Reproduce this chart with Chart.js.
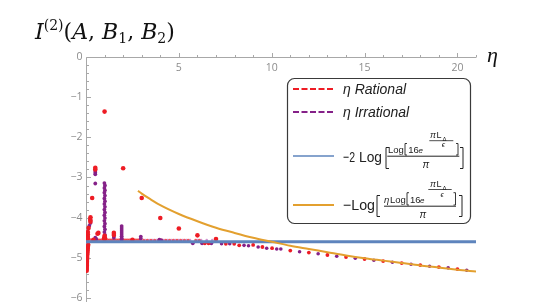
<!DOCTYPE html>
<html><head><meta charset="utf-8">
<script src="https://cdn.jsdelivr.net/npm/chart.js@4.4.0/dist/chart.umd.min.js"></script>
<style>
html,body{margin:0;padding:0;background:#fff;width:545px;height:307px;overflow:hidden}
#wrap{position:relative;width:545px;height:307px}
#c{position:absolute;left:0;top:0}
#title{position:absolute;left:35px;top:10px;font-family:"DejaVu Serif",serif;font-size:22px;color:#111;white-space:nowrap;line-height:30px}
#title sup{font-size:14px;vertical-align:9px;font-style:normal}
#title sub{font-size:14px;vertical-align:-4px}
#eta{position:absolute;left:487px;top:42px;font-family:"Liberation Serif",serif;font-style:italic;font-size:22px;color:#111}
svg{position:absolute;left:0;top:0}
</style></head>
<body><div id="wrap">
<canvas id="c" width="545" height="307"></canvas>
<div id="title"><i>I</i><sup>(2)</sup>(<i>A</i>, <i>B</i><sub>1</sub>, <i>B</i><sub>2</sub>)</div>
<div id="eta">η</div>
<svg width="545" height="307" font-family="Liberation Sans, Arial, sans-serif" fill="#222">
  <rect x="287.5" y="78.5" width="183" height="145" rx="7" ry="7" fill="#fff" stroke="#3a3a3a" stroke-width="1.2"/>
  <line x1="293" y1="89" x2="334" y2="89" stroke="#ee1c24" stroke-width="2" stroke-dasharray="6 2.5"/>
  <text x="343" y="94" font-size="14" font-style="italic">η Rational</text>
  <line x1="293" y1="112" x2="334" y2="112" stroke="#852188" stroke-width="2" stroke-dasharray="6 2.5"/>
  <text x="343" y="117" font-size="14" font-style="italic">η Irrational</text>
  <line x1="293" y1="156" x2="334" y2="156" stroke="#5e84bd" stroke-width="1.6"/>
  <text x="343" y="161.5" font-size="15" textLength="12" lengthAdjust="spacingAndGlyphs">−2</text>
  <text x="359" y="161.5" font-size="15" textLength="23" lengthAdjust="spacingAndGlyphs">Log</text>
  <path d="M389 147.5 H386 V168.5 H389" fill="none" stroke="#222" stroke-width="1"/>
  <text x="388" y="152.7" font-size="9.5">Log</text>
  <path d="M407 143.5 H405 V155 H407" fill="none" stroke="#222" stroke-width="0.9"/>
  <text x="408.3" y="152.7" font-size="9.5">16</text>
  <text x="418.5" y="152.5" font-size="8" font-style="italic">e</text>
  <text x="430" y="138.3" font-size="9" font-style="italic">π</text>
  <text x="436.5" y="138.3" font-size="9">L</text>
  <text x="442.5" y="140.5" font-size="6">Δ</text>
  <line x1="429.3" y1="140.7" x2="453.3" y2="140.7" stroke="#222" stroke-width="0.8"/>
  <text x="441.7" y="147" font-size="7.5" font-style="italic">ϵ</text>
  <path d="M456 143.5 H458 V155 H456" fill="none" stroke="#222" stroke-width="0.9"/>
  <line x1="387.3" y1="156.2" x2="459.3" y2="156.2" stroke="#222" stroke-width="1"/>
  <text x="422.5" y="167.5" font-size="10" font-style="italic">π</text>
  <path d="M460 147.5 H463 V168.5 H460" fill="none" stroke="#222" stroke-width="1"/>

  <line x1="293" y1="205" x2="334" y2="205" stroke="#e3a02f" stroke-width="2"/>
  <text x="343" y="210" font-size="15" textLength="32" lengthAdjust="spacingAndGlyphs">−Log</text>
  <path d="M380 195.5 H377 V216.5 H380" fill="none" stroke="#222" stroke-width="1"/>
  <text x="384" y="202.7" font-size="9.5" font-style="italic">η</text>
  <text x="390" y="202.7" font-size="9.5">Log</text>
  <path d="M409 192.7 H407 V205 H409" fill="none" stroke="#222" stroke-width="0.9"/>
  <text x="410" y="202.7" font-size="9.5">16</text>
  <text x="420" y="202.5" font-size="8" font-style="italic">e</text>
  <text x="430" y="187.3" font-size="9" font-style="italic">π</text>
  <text x="436.5" y="187.3" font-size="9">L</text>
  <text x="442.5" y="189.5" font-size="6">Δ</text>
  <line x1="428.3" y1="189.5" x2="451.7" y2="189.5" stroke="#222" stroke-width="0.8"/>
  <text x="440.5" y="197" font-size="7.5" font-style="italic">ϵ</text>
  <path d="M453.5 192.7 H455.5 V205 H453.5" fill="none" stroke="#222" stroke-width="0.9"/>
  <line x1="384" y1="206.2" x2="456" y2="206.2" stroke="#222" stroke-width="1"/>
  <text x="419.5" y="218" font-size="10" font-style="italic">π</text>
  <path d="M459 195.5 H462 V216.5 H459" fill="none" stroke="#222" stroke-width="1"/>
</svg>
</div>
<script>
// ---- axis ranges and tick labels ----
const xRange = [0, 21];
const yRange = [-6.1, 0];
const xTickLabels = [5, 10, 15, 20];
const yTickLabels = [0, -1, -2, -3, -4, -5, -6];

// ---- η rational: spikes and large points ----
const ratX = [1, 2, 0.5, 0.5, 0.333, 3, 0.24, 0.23, 0.24, 0.14, 4, 5, 0.667, 1.5, 1.5, 6, 0.1, 0.1, 0.09, 0.1, 7, 2.5, 0.4, 1, 1, 0.97, 1.03, 0.62];
const ratY = [-1.36, -2.77, -2.76, -2.8, -3.51, -3.51, -3.99, -4.05, -4.1, -4.26, -4.01, -4.27, -4.38, -4.38, -4.43, -4.44, -4.36, -4.42, -4.47, -4.51, -4.53, -4.55, -4.55, -4.45, -4.49, -4.52, -4.52, -4.4];

// ---- η rational: bar near η = 0 (small η) ----
const ratBarX = [0.125, 0.118, 0.111, 0.105, 0.1, 0.095, 0.091, 0.087, 0.083, 0.08, 0.077, 0.074, 0.071, 0.069, 0.067, 0.065, 0.0625, 0.061, 0.059, 0.057, 0.056, 0.054, 0.053, 0.051, 0.05, 0.049, 0.048];
const ratBarY = [-4.66, -4.69, -4.72, -4.74, -4.77, -4.8, -4.82, -4.85, -4.87, -4.9, -4.92, -4.95, -4.98, -5.0, -5.03, -5.05, -5.08, -5.1, -5.12, -5.15, -5.17, -5.19, -5.21, -5.24, -5.27, -5.3, -5.33];

// ---- η rational: tail ----
const ratTailX = [7.53, 7.98, 8.25, 9.0, 9.5, 10.02, 6.4, 6.6, 11, 12, 13, 14, 15, 16, 17, 18, 19, 20];
const ratTailY = [-4.65, -4.65, -4.69, -4.68, -4.73, -4.76, -4.64, -4.64, -4.82, -4.87, -4.93, -4.98, -5.03, -5.08, -5.13, -5.18, -5.23, -5.28];

// ---- η rational: dense band just above the horizontal line ----
const ratBandX = [0.05, 0.15, 0.25, 0.35, 0.45, 0.55, 0.65, 0.75, 0.85, 0.95, 1.05, 1.15, 1.25, 1.35, 1.45, 1.55, 1.65, 1.75, 1.85, 1.95, 2.05, 2.15, 2.25, 2.35, 2.45, 2.55, 2.65, 2.75, 2.85, 2.95, 3.1, 3.3, 3.5, 3.7, 3.9, 4.1, 4.3, 4.5, 4.7, 4.9, 5.1, 5.3, 5.5, 5.9, 6.1];
const ratBandY = [-4.55, -4.55, -4.55, -4.55, -4.55, -4.55, -4.55, -4.55, -4.55, -4.55, -4.55, -4.55, -4.55, -4.55, -4.55, -4.55, -4.55, -4.55, -4.55, -4.55, -4.55, -4.55, -4.55, -4.55, -4.55, -4.55, -4.55, -4.55, -4.55, -4.55, -4.56, -4.56, -4.56, -4.56, -4.56, -4.56, -4.56, -4.56, -4.56, -4.56, -4.56, -4.56, -4.56, -4.56, -4.56];

// ---- η irrational: columns and points ----
const irrX = [0.5, 0.5, 0.5, 0.5, 0.99, 1.02, 0.99, 1.02, 0.99, 1.02, 0.99, 1.02, 0.99, 1.02, 0.99, 1.02, 0.99, 1.02, 0.99, 1.02, 0.99, 1.02, 0.99, 1.02, 0.99, 1.92, 1.92, 1.92, 1.92, 1.92, 1.92, 1.92, 1.92, 0.24, 0.24, 0.18, 0.5, 0.55, 1.5, 1.5, 2.95, 2.95, 3.95, 4.05, 5.75, 6.25, 6.75];
const irrY = [-2.84, -2.88, -2.92, -3.15, -3.14, -3.2, -3.26, -3.32, -3.38, -3.45, -3.52, -3.59, -3.66, -3.73, -3.8, -3.87, -3.94, -4.01, -4.08, -4.15, -4.22, -4.29, -4.36, -4.43, -4.5, -4.21, -4.26, -4.31, -4.36, -4.41, -4.46, -4.51, -4.55, -4.07, -4.13, -4.2, -4.5, -4.53, -4.45, -4.5, -4.47, -4.52, -4.55, -4.56, -4.64, -4.64, -4.64];

// ---- η irrational: tail ----
const irrTailX = [7.3, 7.74, 8.51, 8.75, 9.27, 9.73, 10.27, 10.49, 11.5, 12.5, 13.5, 14.5, 15.5, 16.5, 17.5, 18.5, 19.5, 20.5];
const irrTailY = [-4.65, -4.65, -4.69, -4.7, -4.73, -4.76, -4.78, -4.78, -4.85, -4.9, -4.96, -5.01, -5.06, -5.11, -5.16, -5.21, -5.25, -5.31];

// ---- η irrational: band ----
const irrBandX = [3.2, 3.4, 3.6, 3.8, 4.2, 4.4, 4.6, 4.8, 5.0, 5.2, 5.4, 5.6, 6.0, 6.2, 6.5, 6.8];
const irrBandY = [-4.56, -4.56, -4.56, -4.56, -4.56, -4.56, -4.56, -4.56, -4.56, -4.56, -4.56, -4.56, -4.56, -4.56, -4.56, -4.56];

// ---- curves ----
const blueX = [0, 21];
const blueY = [-4.6, -4.6];
const orangeX = [2.8, 3, 3.5, 4, 5, 6, 7, 8, 9, 10, 11, 12, 13, 14, 15, 16, 17, 18, 19, 20, 21];
const orangeY = [-3.33, -3.4, -3.55, -3.69, -3.91, -4.09, -4.25, -4.38, -4.5, -4.6, -4.7, -4.78, -4.86, -4.94, -5.01, -5.07, -5.13, -5.19, -5.24, -5.3, -5.34];

const pts = (xs, ys) => xs.map((x, i) => ({x, y: ys[i]}));

const RED = '#ee1c24', PURPLE = '#852188', BLUE = '#5e84bd', ORANGE = '#e3a02f';

const axesPlugin = {
  id: 'mmaAxes',
  beforeDatasetsDraw(chart) {
    const {ctx, scales: {x, y}} = chart;
    const x0 = Math.round(x.getPixelForValue(0)) + 0.5;
    const y0 = Math.round(y.getPixelForValue(0)) + 0.5;
    const xEnd = x.getPixelForValue(xRange[1]);
    const yEnd = y.getPixelForValue(yRange[0]);
    ctx.save();
    ctx.strokeStyle = '#a8a8a8';
    ctx.lineWidth = 1;
    ctx.beginPath();
    ctx.moveTo(x0, y0); ctx.lineTo(xEnd, y0);
    ctx.moveTo(x0, y0); ctx.lineTo(x0, yEnd);
    for (let v = 1; v <= xRange[1]; v++) {
      const px = Math.round(x.getPixelForValue(v)) + 0.5;
      const len = v % 5 === 0 ? 4.5 : 2.5;
      ctx.moveTo(px, y0); ctx.lineTo(px, y0 - len);
    }
    for (let i = 0; i <= 30; i++) {
      const v = -i / 5;
      const py = Math.round(y.getPixelForValue(v)) + 0.5;
      const len = i % 5 === 0 ? 4.5 : 2.5;
      ctx.moveTo(x0, py); ctx.lineTo(x0 + len, py);
    }
    ctx.stroke();
    ctx.fillStyle = '#8c8c8c';
    ctx.font = '10.5px "Open Sans", sans-serif';
    ctx.textAlign = 'center';
    ctx.textBaseline = 'middle';
    xTickLabels.forEach(v => ctx.fillText(String(v), x.getPixelForValue(v), y0 + 11));
    ctx.textAlign = 'right';
    yTickLabels.forEach(v => ctx.fillText(v < 0 ? '\u2212' + Math.abs(v) : String(v), x0 - 4, y.getPixelForValue(v)));
    ctx.restore();
  }
};

new Chart(document.getElementById('c'), {
  type: 'scatter',
  data: {
    datasets: [
      {label: 'blue', type: 'line', data: pts(blueX, blueY), borderColor: BLUE, borderWidth: 3, pointRadius: 0, order: 1},
      {label: 'orange', type: 'line', data: pts(orangeX, orangeY), borderColor: ORANGE, borderWidth: 2, pointRadius: 0, tension: 0.4, cubicInterpolationMode: 'monotone', order: 0},
      {label: 'η Rational band', data: pts(ratBandX, ratBandY), backgroundColor: 'rgba(238,28,36,0.75)', pointRadius: 1.3, borderWidth: 0, order: 5},
      {label: 'η Irrational band', data: pts(irrBandX, irrBandY), backgroundColor: 'rgba(170,60,170,0.55)', pointRadius: 1.3, borderWidth: 0, order: 5},
      {label: 'η Irrational', data: pts(irrX, irrY), backgroundColor: PURPLE, pointRadius: 1.9, borderWidth: 0, order: 4},
      {label: 'η Irrational tail', data: pts(irrTailX, irrTailY), backgroundColor: PURPLE, pointRadius: 1.8, borderWidth: 0, order: 4},
      {label: 'η Rational', data: pts(ratX, ratY), backgroundColor: RED, pointRadius: 2.3, borderWidth: 0, order: 3},
      {label: 'η Rational small', data: pts(ratBarX, ratBarY), backgroundColor: RED, pointRadius: 2.0, borderWidth: 0, order: 3},
      {label: 'η Rational tail', data: pts(ratTailX, ratTailY), backgroundColor: RED, pointRadius: 1.9, borderWidth: 0, order: 3}
    ]
  },
  options: {
    responsive: false,
    animation: false,
    layout: {padding: {left: 86, right: 69, top: 57, bottom: 5}},
    plugins: {legend: {display: false}, tooltip: {enabled: false}},
    scales: {
      x: {type: 'linear', min: xRange[0], max: xRange[1], display: false},
      y: {type: 'linear', min: yRange[0], max: yRange[1], display: false}
    }
  },
  plugins: [axesPlugin]
});
</script>
</body></html>
